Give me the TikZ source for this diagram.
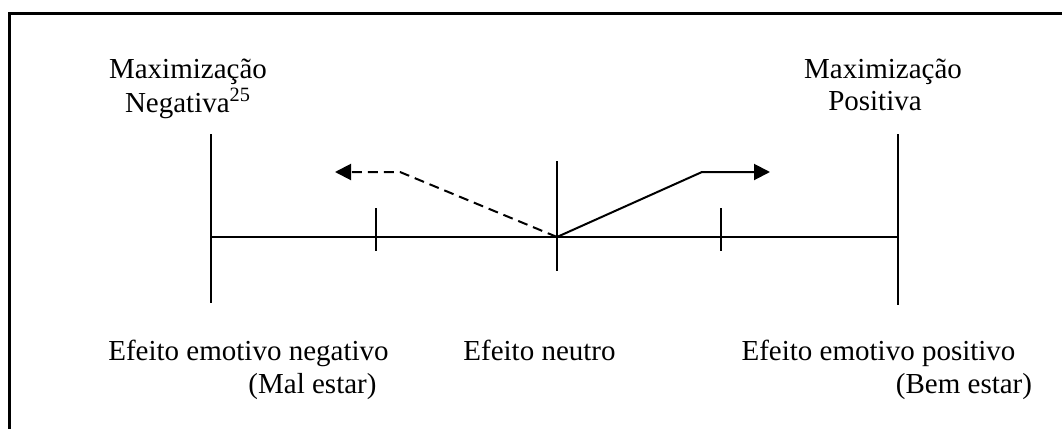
\documentclass[tikz,border=0pt]{standalone}
\usepackage{fontspec}
\setmainfont{Liberation Serif}
\usetikzlibrary{arrows.meta, calc}

\begin{document}
\begin{tikzpicture}[
    x=0.5pt, y=-0.5pt,
    lbl/.style={anchor=base, inner sep=0pt, font=\fontsize{14.5}{16.5}\selectfont},
    axis/.style={line width=1pt},
    arr/.style={line width=1pt, -{Triangle[length=8pt, width=8pt]}}
]
    \useasboundingbox (0,0) rectangle (1062,429);

    % Frame
    \draw[line width=1.5pt] (1062,13) -- (9,13) -- (9,429);

    % Axis points
    \coordinate (neg) at (211,237);
    \coordinate (tneg) at (376,237);
    \coordinate (mid) at (557,237);
    \coordinate (tpos) at (721,237);
    \coordinate (pos) at (898,237);

    % Axis and marks
    \draw[axis] (neg) -- (pos);
    \draw[axis] ($(neg)+(0,-103)$) -- ($(neg)+(0,66)$);
    \draw[axis] ($(pos)+(0,-103)$) -- ($(pos)+(0,68)$);
    \draw[axis] ($(mid)+(0,-76)$) -- ($(mid)+(0,34)$);
    \draw[axis] ($(tneg)+(0,-29)$) -- ($(tneg)+(0,14)$);
    \draw[axis] ($(tpos)+(0,-29)$) -- ($(tpos)+(0,14)$);

    % Direction arrows
    \coordinate (dbend) at (400,172);
    \coordinate (dtip) at (335,172);
    \coordinate (sbend) at (702,172);
    \coordinate (stip) at (770,172);
    \draw[arr, dashed, dash pattern=on 5pt off 3pt] (mid) -- (dbend) -- (dtip);
    \draw[arr] (mid) -- (sbend) -- (stip);

    % Top labels
    \node[lbl] (maxneg) at (188,78) {Maximização};
    \node[lbl] (negtxt) at (188,112) {Negativa\textsuperscript{25}};
    \node[lbl] (maxpos) at (883,78) {Maximização};
    \node[lbl] (postxt) at (875,110) {Positiva};

    % Bottom labels
    \node[lbl] (efneg) at (248.5,360) {Efeito emotivo negativo};
    \node[lbl] (malestar) at (312.5,393) {(Mal estar)};
    \node[lbl] (efneu) at (539.5,360) {Efeito neutro};
    \node[lbl] (efpos) at (878.5,360) {Efeito emotivo positivo};
    \node[lbl] (bemestar) at (964,393) {(Bem estar)};
\end{tikzpicture}
\end{document}
